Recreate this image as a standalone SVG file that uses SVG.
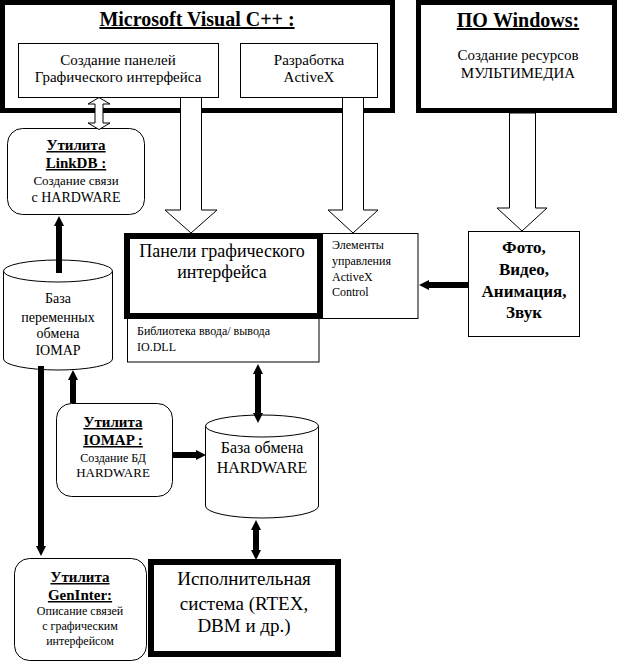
<svg xmlns="http://www.w3.org/2000/svg" width="622" height="663" viewBox="0 0 622 663">
<style>
text{font-family:"Liberation Serif","Times New Roman",serif;fill:#000}
.c{text-anchor:middle}
.ttl{font-size:20px;font-weight:bold;text-decoration:underline}
.ut{font-size:15px;font-weight:bold;text-decoration:underline}
.thick{fill:#fff;stroke:#000;stroke-width:5}
.heavy{fill:#fff;stroke:#000;stroke-width:6}
.thin{fill:#fff;stroke:#000;stroke-width:1}
.hollow{fill:#fff;stroke:#000;stroke-width:1;stroke-linejoin:miter}
.blk{fill:none;stroke:#000;stroke-width:6}
</style>
<defs>
<marker id="ah" markerUnits="userSpaceOnUse" viewBox="0 0 10 10" markerWidth="10" markerHeight="10" refX="3" refY="5" orient="auto-start-reverse">
<path d="M0,0 L10,5 L0,10 Z" fill="#000"/>
</marker>
</defs>

<g id="vcpp">
<rect class="thick" x="2.5" y="2.5" width="390" height="108"/>
<text class="c ttl" x="197" y="26">Microsoft Visual C++ :</text>
</g>
<g id="gui-create">
<rect class="thin" x="18.5" y="43.5" width="200" height="54"/>
<text class="c" x="118" y="65" font-size="15">Создание панелей</text>
<text class="c" x="118" y="82" font-size="15">Графического интерфейса</text>
</g>
<g id="activex-dev">
<rect class="thin" x="240.5" y="43.5" width="137" height="54"/>
<text class="c" x="309" y="65" font-size="15">Разработка</text>
<text class="c" x="309" y="82" font-size="15">ActiveX</text>
</g>
<g id="windows">
<rect class="thick" x="418.5" y="2.5" width="196" height="108"/>
<text class="c ttl" x="518" y="27">ПО Windows:</text>
<text class="c" x="518" y="60" font-size="15">Создание ресурсов</text>
<text class="c" x="518" y="78" font-size="15">МУЛЬТИМЕДИА</text>
</g>
<g id="linkdb">
<rect class="thin" x="7.5" y="128.5" width="137" height="86" rx="15"/>
<text class="c ut" x="76" y="150">Утилита</text>
<text class="c ut" x="76" y="168">LinkDB :</text>
<text class="c" x="76" y="185" font-size="13">Создание связи</text>
<text class="c" x="76" y="202" font-size="14">с HARDWARE</text>
</g>
<g id="activex-ctrl">
<rect class="thin" x="320" y="233.5" width="98" height="85"/>
<text x="332" y="249" font-size="12">Элементы</text>
<text x="332" y="265" font-size="12">управления</text>
<text x="332" y="281" font-size="12">ActiveX</text>
<text x="332" y="296" font-size="12">Control</text>
</g>
<g id="iodll">
<rect class="thin" x="127.5" y="316" width="191.5" height="46"/>
<text x="137" y="335" font-size="12">Библиотека ввода/ вывода</text>
<text x="137" y="351" font-size="12">IO.DLL</text>
</g>
<g id="panels">
<rect class="heavy" x="127" y="236" width="193" height="80"/>
<text class="c" x="222" y="257" font-size="18">Панели графического</text>
<text class="c" x="222" y="278" font-size="18">интерфейса</text>
</g>
<g id="media">
<rect class="thin" x="468.5" y="231.5" width="111" height="105"/>
<text class="c" x="524" y="253" font-size="17" font-weight="bold">Фото,</text>
<text class="c" x="524" y="275" font-size="17" font-weight="bold">Видео,</text>
<text class="c" x="524" y="297" font-size="17" font-weight="bold">Анимация,</text>
<text class="c" x="524" y="318" font-size="17" font-weight="bold">Звук</text>
</g>
<g id="iomap-db">
<path class="thin" d="M3.5,271 L3.5,359 A54.5,11 0 0 0 112.5,359 L112.5,271"/>
<ellipse class="thin" cx="58" cy="271" rx="54.5" ry="11"/>
<text class="c" x="58" y="303" font-size="14">База</text>
<text class="c" x="58" y="322" font-size="14">переменных</text>
<text class="c" x="58" y="338" font-size="14">обмена</text>
<text class="c" x="58" y="355" font-size="14">IOMAP</text>
</g>
<g id="iomap-util">
<rect class="thin" x="56.5" y="403.5" width="116" height="93" rx="15"/>
<text class="c ut" x="113" y="427">Утилита</text>
<text class="c ut" x="113" y="445">IOMAP :</text>
<text class="c" x="113" y="462" font-size="12">Создание БД</text>
<text class="c" x="113" y="477" font-size="13">HARDWARE</text>
</g>
<g id="hw-db">
<path class="thin" d="M205.5,426 L205.5,506 A56.5,12 0 0 0 318.5,506 L318.5,426"/>
<ellipse class="thin" cx="262" cy="426" rx="56.5" ry="11"/>
<text class="c" x="262" y="453" font-size="16">База обмена</text>
<text class="c" x="262" y="473" font-size="16">HARDWARE</text>
</g>
<g id="geninter">
<rect class="thin" x="14.5" y="558.5" width="132" height="102" rx="15"/>
<text class="c ut" x="80" y="582">Утилита</text>
<text class="c ut" x="80" y="600">GenInter:</text>
<text class="c" x="80" y="615" font-size="12">Описание связей</text>
<text class="c" x="80" y="630" font-size="12">с графическим</text>
<text class="c" x="80" y="645" font-size="12">интерфейсом</text>
</g>
<g id="runtime">
<rect class="heavy" x="151" y="562" width="187" height="92"/>
<text class="c" x="244" y="585" font-size="19">Исполнительная</text>
<text class="c" x="244" y="610" font-size="19">система (RTEX,</text>
<text class="c" x="244" y="632" font-size="19">DBM и др.)</text>
</g>

<g id="connectors">
<polygon class="hollow" points="99,97.5 110,104 103,104 103,123 110,123 99,129.5 88,123 95,123 95,104 88,104"/>
<polygon class="hollow" points="180.5,97.5 201.5,97.5 201.5,210 217,210 191,233 165,210 180.5,210"/>
<polygon class="hollow" points="342.5,97.5 363.5,97.5 363.5,210 378,210 353,233 328,210 342.5,210"/>
<polygon class="hollow" points="509.5,113 535.5,113 535.5,208 547,208 522,231 497,208 509.5,208"/>
<path class="blk" d="M59,273 L59,223" marker-end="url(#ah)"/>
<path class="blk" d="M41,366 L41,549" marker-end="url(#ah)"/>
<path class="blk" d="M73,403 L73,377" marker-end="url(#ah)"/>
<path class="blk" d="M173,455 L199,455" marker-end="url(#ah)"/>
<path class="blk" d="M258,371 L258,416" marker-start="url(#ah)" marker-end="url(#ah)"/>
<path class="blk" d="M256,527 L256,553" marker-start="url(#ah)" marker-end="url(#ah)"/>
<path class="blk" d="M468,285 L426,285" marker-end="url(#ah)"/>
</g>
</svg>
